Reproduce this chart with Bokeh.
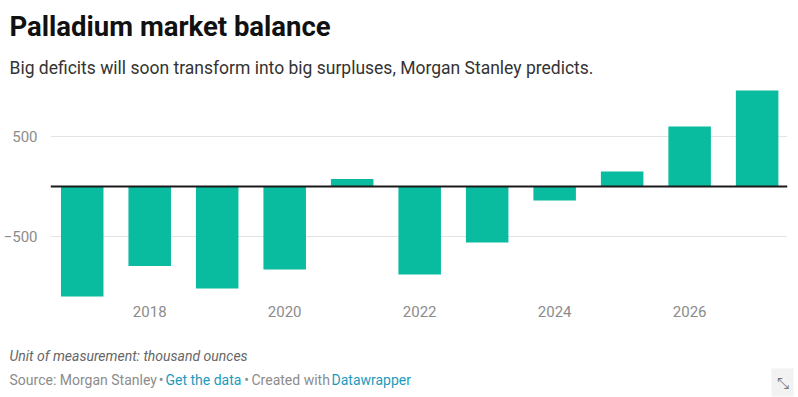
from bokeh.plotting import figure
from bokeh.models import Label, FixedTicker, Span, Range1d
from bokeh.layouts import column
from bokeh.embed import file_html
from bokeh.resources import INLINE

years = [2017, 2018, 2019, 2020, 2021, 2022, 2023, 2024, 2025, 2026, 2027]
balance = [-1100, -795, -1020, -830, 75, -880, -560, -140, 150, 600, 960]
x_ticks = [2018, 2020, 2022, 2024, 2026]
y_ticks = [-500, 500]
y_tick_labels = {-500: "\u2212500", 500: "500"}

BAR = "#09bb9f"
FONT = "Roboto"
W = 798


def text_fig(h):
    f = figure(width=W, height=h, output_backend="svg", toolbar_location=None,
               x_range=Range1d(0, W), y_range=Range1d(h, 0),
               x_axis_type=None, y_axis_type=None, frame_align=False,
               min_border=0, min_border_left=0, min_border_right=0,
               min_border_top=0, min_border_bottom=0)
    f.outline_line_color = None
    f.xgrid.visible = False
    f.ygrid.visible = False
    return f


def lab(f, x, y, t, size, color, style="normal", font=FONT, **kw):
    f.add_layout(Label(x=x, y=y, text=t, text_font=font, text_font_size=size,
                       text_color=color, text_font_style=style,
                       text_baseline="alphabetic", **kw))


# header
TOP_H = 86
head = text_fig(TOP_H)
lab(head, 9, 26.2, "Palladium market balance", "27.5px", "#111111", "bold")
lab(head, 9, 67.4, "Big deficits will soon transform into big surpluses, Morgan Stanley predicts.",
    "17.5px", "#333333")

# main chart
p = figure(width=W, height=244, output_backend="svg", toolbar_location=None,
           x_range=Range1d(2016.53, 2027.45), y_range=Range1d(-1150, 1000),
           frame_align=False,
           min_border_left=50, min_border_right=11, min_border_top=0, min_border_bottom=29)
p.outline_line_color = None

p.vbar(x=years, top=balance, bottom=0, width=0.63, color=BAR, line_color=None)

p.xgrid.grid_line_color = None
p.ygrid.ticker = FixedTicker(ticks=y_ticks)
p.ygrid.grid_line_color = "#e3e3e3"
p.ygrid.grid_line_width = 1
p.ygrid.level = "underlay"

p.add_layout(Span(location=0, dimension="width", line_color="#1a1a1a", line_width=2))

for ax in (p.xaxis[0], p.yaxis[0]):
    ax.axis_line_color = None
    ax.major_tick_line_color = None
    ax.minor_tick_line_color = None
    ax.major_label_text_font = FONT
    ax.major_label_text_font_size = "15px"
    ax.major_label_text_color = "#8c8c8c"

p.xaxis.ticker = FixedTicker(ticks=x_ticks)
p.xaxis.major_label_standoff = -2
p.yaxis.ticker = FixedTicker(ticks=y_ticks)
p.yaxis.major_label_overrides = y_tick_labels
p.yaxis.major_label_standoff = 7

# footer
FOOT_TOP = 330
foot = text_fig(67)
SRC_Y = 379 - FOOT_TOP
lab(foot, 9, 355.7 - FOOT_TOP, "Unit of measurement: thousand ounces", "14px", "#666666", "italic")
lab(foot, 9, SRC_Y, "Source: Morgan Stanley", "14px", "#8c8c8c")
lab(foot, 160.7, SRC_Y, "\u2022", "14px", "#8c8c8c", text_align="center")
lab(foot, 165, SRC_Y, "Get the data", "14px", "#1d9bbd")
lab(foot, 246, SRC_Y, "\u2022", "14px", "#8c8c8c", text_align="center")
lab(foot, 251, SRC_Y, "Created with", "14px", "#8c8c8c")
lab(foot, 331, SRC_Y, "Datawrapper", "14px", "#1d9bbd")
foot.add_layout(Label(x=782, y=382 - FOOT_TOP, text="\u2921", text_font="DejaVu Sans",
                      text_font_size="15px", text_color="#777777", text_align="center",
                      text_baseline="middle", background_fill_color="#f2f2f2", padding=5))

layout = column(head, p, foot, spacing=0)
open("out.html", "w").write(file_html(layout, INLINE))
